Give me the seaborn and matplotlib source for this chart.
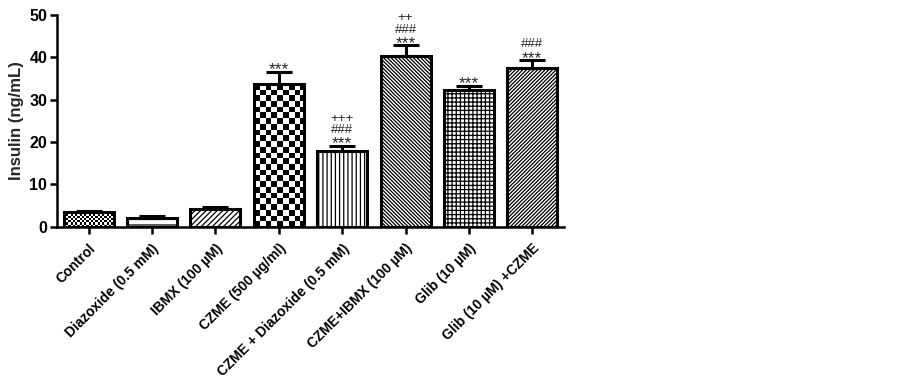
import numpy as np
import pandas as pd
import seaborn as sns
import matplotlib.pyplot as plt

# 数据
groups = ['Control', 'Diazoxide (0.5 mM)', 'IBMX (100 µM)', 'CZME (500 µg/ml)',
          'CZME + Diazoxide (0.5 mM)', 'CZME+IBMX (100 µM)', 'Glib (10 µM)',
          'Glib (10 µM) +CZME']
insulin = [3.4, 2.1, 4.2, 33.6, 17.8, 40.3, 32.2, 37.5]
sem = [0.4, 0.4, 0.4, 3.0, 1.3, 2.5, 1.1, 1.8]
stars = ['', '', '', '***', '***', '***', '***', '***']
hashes = ['', '', '', '', '###', '###', '', '###']
plus = ['', '', '', '', '+++', '++', '', '']
y_ticks = [0, 10, 20, 30, 40, 50]

sns.set_style('ticks')
plt.rcParams['font.family'] = ['Liberation Sans', 'DejaVu Sans']
plt.rcParams['hatch.linewidth'] = 0.9

df = pd.DataFrame({'group': groups, 'insulin': insulin})

fig = plt.figure(figsize=(9.02, 3.86), dpi=100)
ax = fig.add_axes([57 / 902, (386 - 226.7) / 386, 507 / 902, 211.7 / 386])

sns.barplot(data=df, x='group', y='insulin', color='white', width=0.79,
            edgecolor='black', linewidth=2.2, errorbar=None, ax=ax)
ax.set_xlim(-0.5, len(groups) - 0.5)
ax.set_ylim(0, 50)

# 填充图案；两个棋盘格柱子用图像填充
hatches = [None, '---', '//////', None, '||||', '\\' * 9, '++++', '/' * 9]
checker_px = {0: 2.2, 3: 5.7}
for i, p in enumerate(ax.patches[:len(groups)]):
    p.set_zorder(2)
    if i in checker_px:
        p.set_facecolor('none')
        x0, y0, w, h = p.get_x(), p.get_y(), p.get_width(), p.get_height()
        (px0, py0), (px1, py1) = ax.transData.transform([(x0, y0), (x0 + w, y0 + h)])
        s = checker_px[i]
        ncol = int(np.ceil((px1 - px0) / s))
        nrow = int(np.ceil((py1 - py0) / s))
        jj, ii = np.indices((nrow, ncol))
        board = (ii + jj) % 2
        sx = w * s / (px1 - px0)
        sy = h * s / (py1 - py0)
        im = ax.imshow(board, cmap='gray', origin='lower', aspect='auto',
                       interpolation='nearest',
                       extent=[x0, x0 + ncol * sx, y0, y0 + nrow * sy], zorder=1.5)
        im.set_clip_path(p)
    else:
        p.set_hatch(hatches[i])
ax.set_xlim(-0.5, len(groups) - 0.5)
ax.set_ylim(0, 50)

# 误差线（仅上方）
xs = np.arange(len(groups))
ax.errorbar(xs, insulin, yerr=[np.zeros(len(sem)), sem], fmt='none', ecolor='black',
            elinewidth=2.2, capsize=9.7, capthick=2.2, zorder=3)

# 显著性标记
for i in range(len(groups)):
    top = insulin[i] + sem[i]
    if stars[i]:
        ax.annotate(stars[i], xy=(i, top), xytext=(0, 1.5), textcoords='offset points',
                    ha='center', va='center', fontsize=12.5)
    if hashes[i]:
        ax.annotate(hashes[i], xy=(i, top), xytext=(0, 11.5), textcoords='offset points',
                    ha='center', va='center', fontsize=9.5)
    if plus[i]:
        ax.annotate(plus[i], xy=(i, top), xytext=(0, 19.5), textcoords='offset points',
                    ha='center', va='center', fontsize=9.5)

ax.set_yticks(y_ticks)
ax.set_ylabel('Insulin (ng/mL)', fontsize=12, fontweight='bold', labelpad=4)
ax.set_xlabel('')
ax.set_xticks(xs)
ax.set_xticklabels(groups, rotation=45, ha='right', rotation_mode='anchor',
                   fontsize=10, fontweight='bold')
for lab in ax.get_yticklabels():
    lab.set_fontweight('bold')
    lab.set_fontsize(11.5)
ax.tick_params(axis='both', direction='out', length=5, width=1.8, colors='black', pad=2)
ax.tick_params(axis='x', pad=5.5)
for side in ['left', 'bottom']:
    ax.spines[side].set_linewidth(1.8)
    ax.spines[side].set_color('black')
sns.despine(ax=ax)

fig.savefig('out.png', dpi=100)
